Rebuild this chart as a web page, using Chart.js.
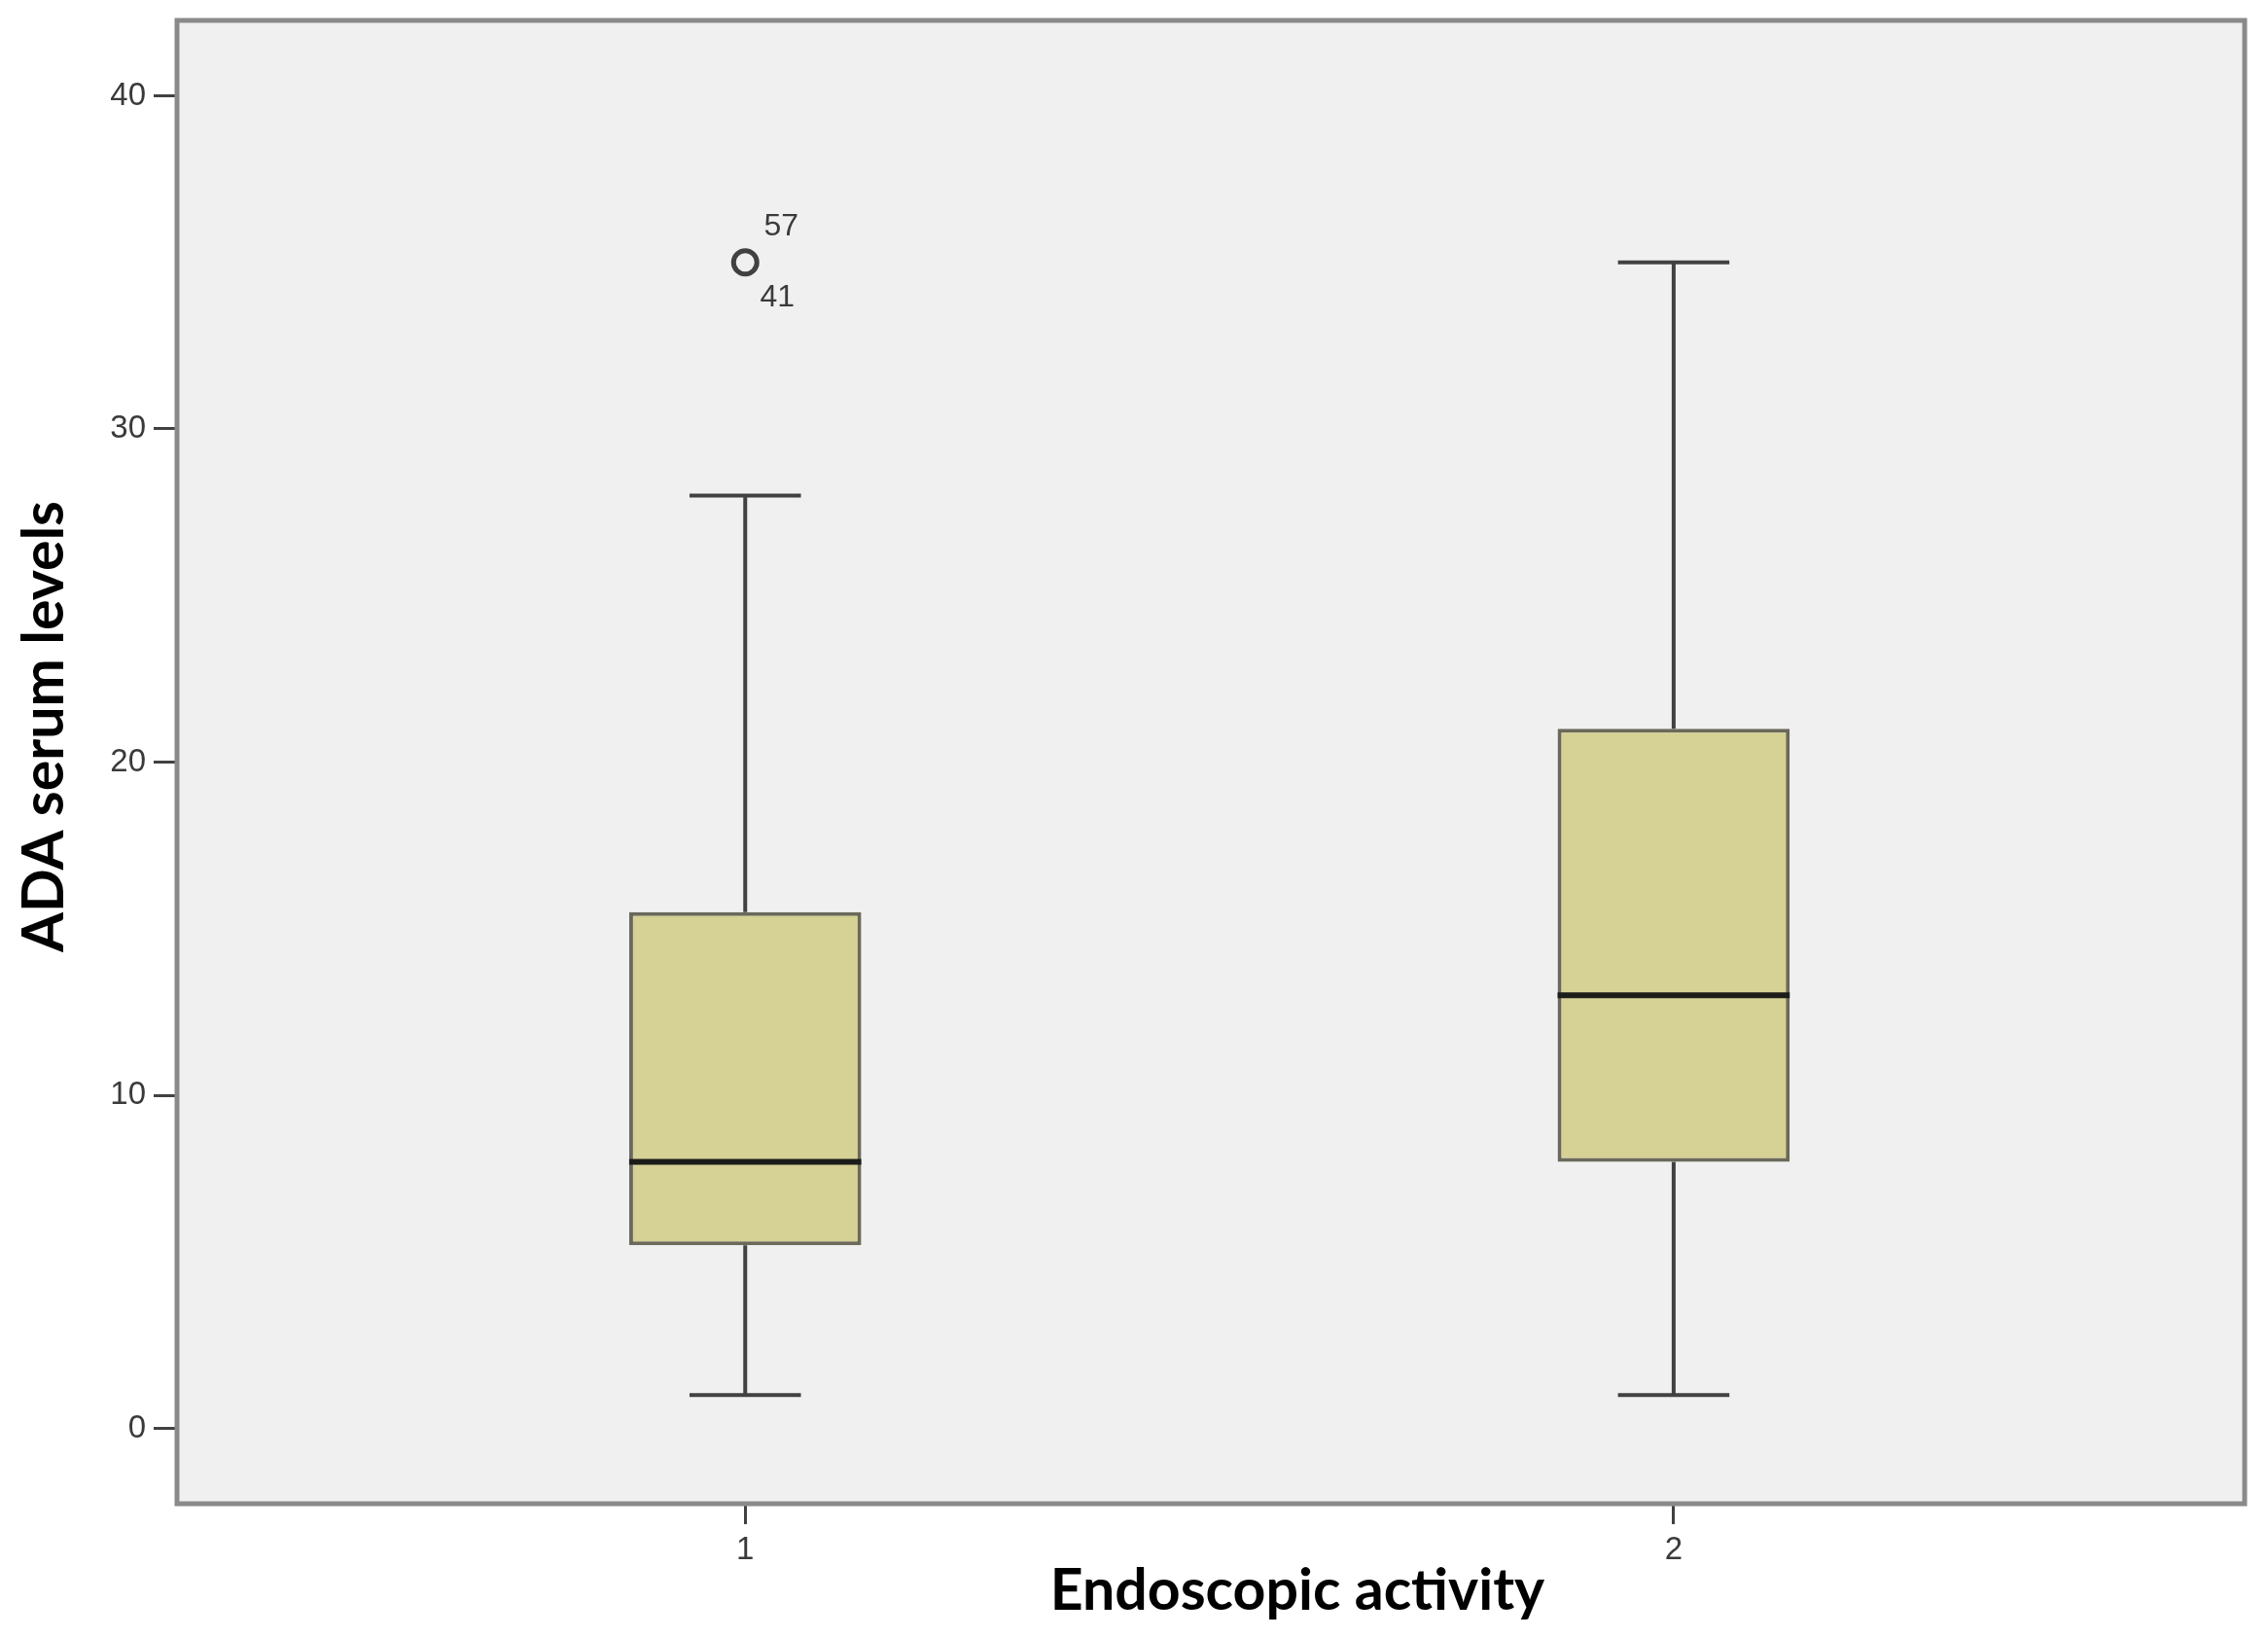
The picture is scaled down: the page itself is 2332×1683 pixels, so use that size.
<!DOCTYPE html>
<html>
<head>
<meta charset="utf-8">
<script src="https://cdn.jsdelivr.net/npm/chart.js@4.4.1/dist/chart.umd.min.js"></script>
<style>
  html, body { margin: 0; padding: 0; background: #ffffff; }
  #boxChart { display: block; }
</style>
</head>
<body>
<canvas id="boxChart" width="2332" height="1683"></canvas>
<script>
// data
let categories = ["1", "2"];
let whiskerLow = [1, 1];
let quartile1 = [5.5, 8];
let medians = [8, 13];
let quartile3 = [15.5, 21];
let whiskerHigh = [28, 35];
let outlierGroup = ["1"];
let outlierValues = [35];
let outlierCases = [["57", "41"]];
let yTickValues = [0, 10, 20, 30, 40];

let xTitle = "Endoscopic activity";
let yTitle = "ADA serum levels";

// styling
const boxFill = "#d6d194";
const boxEdge = "#6a695a";
const lineColor = "#414141";
const medianColor = "#1c1c1a";
const tickColor = "#3a3a3a";
const boxWidthUnits = 0.25;
const capHalfUnits = 0.06;

// category position on the linear x axis
const xOf = (label) => categories.indexOf(label) + 1;

let boxData = [];
let whiskerData = [];
let medianData = [];
for (var i = 0; i < categories.length; i++) {
    let x = xOf(categories[i]);
    boxData.push({ x: x, y: [quartile1[i], quartile3[i]] });
    // lower whisker + cap
    whiskerData.push({ x: x, y: whiskerLow[i] }, { x: x, y: quartile1[i] }, { x: x, y: null });
    whiskerData.push({ x: x - capHalfUnits, y: whiskerLow[i] }, { x: x + capHalfUnits, y: whiskerLow[i] }, { x: x, y: null });
    // upper whisker + cap
    whiskerData.push({ x: x, y: quartile3[i] }, { x: x, y: whiskerHigh[i] }, { x: x, y: null });
    whiskerData.push({ x: x - capHalfUnits, y: whiskerHigh[i] }, { x: x + capHalfUnits, y: whiskerHigh[i] }, { x: x, y: null });
    medianData.push({ x: x - boxWidthUnits / 2, y: medians[i] }, { x: x + boxWidthUnits / 2, y: medians[i] }, { x: x, y: null });
}
let outlierData = [];
for (var j = 0; j < outlierValues.length; j++) {
    outlierData.push({ x: xOf(outlierGroup[j]), y: outlierValues[j] });
}

// plot background, frame, axis titles and outlier case numbers
const decorPlugin = {
    id: "decor",
    beforeDraw: (chart) => {
        let ctx = chart.ctx;
        let a = chart.chartArea;
        ctx.save();
        ctx.fillStyle = "#ffffff";
        ctx.fillRect(0, 0, chart.width, chart.height);
        ctx.fillStyle = "#f0f0f0";
        ctx.fillRect(a.left, a.top, a.right - a.left, a.bottom - a.top);
        ctx.restore();
    },
    afterDraw: (chart) => {
        let ctx = chart.ctx;
        let a = chart.chartArea;
        let xs = chart.scales.x;
        let ys = chart.scales.y;
        ctx.save();
        ctx.strokeStyle = "#8a8a8a";
        ctx.lineWidth = 5;
        ctx.strokeRect(a.left, a.top, a.right - a.left, a.bottom - a.top);

        ctx.fillStyle = tickColor;
        ctx.font = "32px 'Liberation Sans', Arial, sans-serif";
        ctx.textAlign = "center";
        ctx.textBaseline = "middle";
        for (var k = 0; k < outlierData.length; k++) {
            let px = xs.getPixelForValue(outlierData[k].x);
            let py = ys.getPixelForValue(outlierData[k].y);
            ctx.fillText(outlierCases[k][0], px + 37, py - 37);
            ctx.fillText(outlierCases[k][1], px + 33, py + 36);
        }

        ctx.fillStyle = "#000000";
        ctx.font = "bold 59px Lato, 'Open Sans', sans-serif";
        ctx.fillText(xTitle, 1334, 1636);
        ctx.translate(46, 747);
        ctx.rotate(-Math.PI / 2);
        ctx.fillText(yTitle, 0, 0);
        ctx.restore();
    }
};

var ctxB = document.getElementById("boxChart").getContext("2d");
var boxChart = new Chart(ctxB, {
    data: {
        datasets: [
            {
                type: "scatter",
                label: "Outliers",
                data: outlierData,
                pointStyle: "circle",
                pointRadius: 12,
                pointBorderWidth: 5,
                borderColor: lineColor,
                backgroundColor: "rgba(0,0,0,0)",
                order: 0
            },
            {
                type: "line",
                label: "Median",
                data: medianData,
                borderColor: medianColor,
                borderWidth: 6,
                pointRadius: 0,
                spanGaps: false,
                order: 1
            },
            {
                type: "line",
                label: "Whiskers",
                data: whiskerData,
                borderColor: lineColor,
                borderWidth: 4,
                pointRadius: 0,
                spanGaps: false,
                order: 3
            },
            {
                type: "bar",
                label: "IQR",
                data: boxData,
                backgroundColor: boxFill,
                borderColor: boxEdge,
                borderWidth: 4,
                borderSkipped: false,
                categoryPercentage: 1,
                barPercentage: boxWidthUnits,
                order: 2
            }
        ]
    },
    options: {
        responsive: false,
        devicePixelRatio: 1,
        animation: false,
        layout: { padding: { left: 0, top: 21, right: 24, bottom: 0 } },
        plugins: {
            legend: { display: false },
            tooltip: { enabled: false }
        },
        scales: {
            x: {
                type: "linear",
                offset: false,
                min: 0.388,
                max: 2.615,
                grid: { offset: false, drawOnChartArea: false, drawTicks: true, tickLength: 21, color: lineColor, lineWidth: 3 },
                border: { display: false },
                ticks: {
                    color: tickColor,
                    font: { family: "'Liberation Sans', Arial, sans-serif", size: 33 },
                    padding: 7,
                    callback: (v) => categories[Math.round(v) - 1]
                },
                afterBuildTicks: (scale) => {
                    scale.ticks = categories.map((c) => ({ value: xOf(c) }));
                },
                afterFit: (scale) => {
                    scale.height = 137;
                    scale.paddingLeft = 0;
                    scale.paddingRight = 0;
                }
            },
            y: {
                type: "linear",
                min: -2.26,
                max: 42.26,
                grid: { drawOnChartArea: false, drawTicks: true, tickLength: 24, color: lineColor, lineWidth: 3 },
                border: { display: false },
                ticks: {
                    color: tickColor,
                    font: { family: "'Liberation Sans', Arial, sans-serif", size: 33 },
                    padding: 8
                },
                afterBuildTicks: (scale) => {
                    scale.ticks = yTickValues.map((v) => ({ value: v }));
                },
                afterFit: (scale) => {
                    scale.width = 182;
                    scale.paddingTop = 0;
                    scale.paddingBottom = 0;
                }
            }
        }
    },
    plugins: [decorPlugin]
});
</script>
</body>
</html>
